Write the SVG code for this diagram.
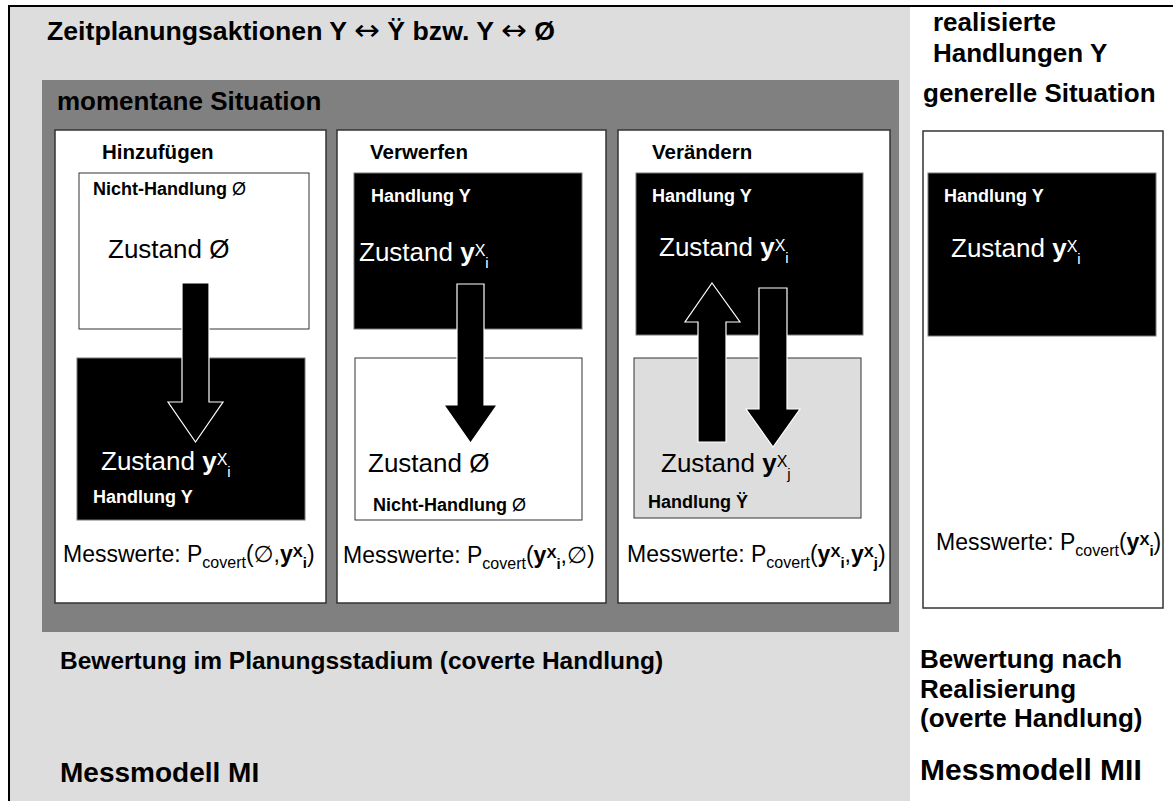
<svg xmlns="http://www.w3.org/2000/svg" width="1173" height="801" viewBox="0 0 1173 801">
  <defs>
    <style>
      text { font-family: "Liberation Sans", Arial, "DejaVu Sans", sans-serif; fill: #000; }
      .h { font-size: 25px; font-weight: bold; }
      .h26 { font-size: 26px; font-weight: bold; }
      .mm { font-size: 30px; font-weight: bold; }
      .ph { font-size: 20.5px; font-weight: bold; }
      .act { font-size: 18px; font-weight: bold; }
      .zs { font-size: 26px; }
      .mw { font-size: 23px; }
      .b { font-weight: bold; }
      .w { fill: #fff; }
      .arr { font-family: "DejaVu Sans", sans-serif; font-weight: normal; font-size: 29px; }
      .panel { fill: #fff; stroke: #333; stroke-width: 1.5; }
      .box-white { fill: #fff; stroke: #333; stroke-width: 1; }
      .box-black { fill: #000; stroke: #777; stroke-width: 1; }
      .box-gray { fill: #dddddd; stroke: #333; stroke-width: 1; }
      .arrow { fill: #000; stroke: #fff; stroke-width: 1.2; stroke-linejoin: miter; }
    </style>
  </defs>

  <!-- background areas -->
  <rect x="0" y="0" width="1173" height="801" fill="#fff"/>
  <rect x="10" y="7" width="900" height="794" fill="#dddddd"/>
  <line x1="9" y1="6" x2="1173" y2="6" stroke="#000" stroke-width="2"/>
  <line x1="9" y1="5" x2="9" y2="801" stroke="#000" stroke-width="2"/>

  <!-- headings -->
  <g id="headings">
    <text class="h" x="47" y="40" textLength="508" lengthAdjust="spacingAndGlyphs">Zeitplanungsaktionen Y <tspan class="arr">↔</tspan> Ÿ bzw. Y <tspan class="arr">↔</tspan> Ø</text>
    <text class="h26" x="933" y="31">realisierte</text>
    <text class="h26" x="933" y="62">Handlungen Y</text>
    <text class="h26" x="923" y="102">generelle Situation</text>
  </g>

  <!-- current situation frame -->
  <g id="momentane-situation">
    <rect x="42" y="80" width="857" height="552" fill="#808080"/>
    <text class="h26" x="57" y="110">momentane Situation</text>
  </g>

  <!-- panel: add -->
  <g id="hinzufuegen">
    <rect class="panel" x="55" y="130" width="271" height="473"/>
    <text class="ph" x="102" y="159">Hinzufügen</text>
    <rect class="box-white" x="79" y="173" width="230" height="156"/>
    <text class="act" x="93" y="195">Nicht-Handlung <tspan font-weight="normal">Ø</tspan></text>
    <text class="zs" x="108" y="258">Zustand Ø</text>
    <rect class="box-black" x="77" y="358" width="228" height="162"/>
  </g>

  <!-- panel: discard -->
  <g id="verwerfen">
    <rect class="panel" x="337" y="130" width="269" height="473"/>
    <text class="ph" x="370" y="159">Verwerfen</text>
    <rect class="box-black" x="354" y="173" width="228" height="156"/>
    <text class="act w" x="371" y="202">Handlung Y</text>
    <text class="zs w" x="359" y="261">Zustand <tspan class="b">y</tspan><tspan font-size="16" dy="-5">X</tspan><tspan font-size="15" dy="12">i</tspan></text>
    <rect class="box-white" x="355" y="358" width="227" height="162"/>
  </g>

  <!-- panel: change -->
  <g id="veraendern">
    <rect class="panel" x="618" y="130" width="272" height="473"/>
    <text class="ph" x="652" y="159">Verändern</text>
    <rect class="box-black" x="636" y="173" width="227" height="162"/>
    <text class="act w" x="652" y="202">Handlung Y</text>
    <text class="zs w" x="659" y="256">Zustand <tspan class="b">y</tspan><tspan font-size="16" dy="-5">X</tspan><tspan font-size="15" dy="12">i</tspan></text>
    <rect class="box-gray" x="634" y="358" width="227" height="160"/>
  </g>

  <!-- panel: realised action -->
  <g id="realisiert">
    <rect class="panel" x="923" y="131" width="240" height="477"/>
    <rect class="box-black" x="928" y="173" width="228" height="163"/>
    <text class="act w" x="944" y="202">Handlung Y</text>
    <text class="zs w" x="951" y="257">Zustand <tspan class="b">y</tspan><tspan font-size="16" dy="-5">X</tspan><tspan font-size="15" dy="12">i</tspan></text>
    <text class="mw" x="936" y="550">Messwerte: P<tspan font-size="16" dy="6">covert</tspan><tspan dy="-6">(</tspan><tspan class="b">y</tspan><tspan class="b" font-size="15" dy="-5">X</tspan><tspan class="b" font-size="15" dy="11">i</tspan><tspan dy="-6">)</tspan></text>
  </g>

  <!-- transition arrows -->
  <g id="connectors">
    <path class="arrow" d="M182,283 H209 V402 H223 L195.5,442 L168,402 H182 Z"/>
    <path class="arrow" d="M457,284 H484 V405 H497 L470.5,443 L444,405 H457 Z"/>
    <path class="arrow" d="M698,442 V322 H685 L712,283 L740,322 H726 V442 Z"/>
    <path class="arrow" d="M759,288 H787 V409 H800 L773,447 L746,409 H759 Z"/>
  </g>

  <!-- texts drawn over the arrows -->
  <g id="hinzufuegen-ziel">
    <text class="zs w" x="101" y="470">Zustand <tspan class="b">y</tspan><tspan font-size="16" dy="-5">X</tspan><tspan font-size="15" dy="12">i</tspan></text>
    <text class="act w" x="93" y="503">Handlung Y</text>
    <text class="mw" x="63" y="562">Messwerte: P<tspan font-size="16" dy="6">covert</tspan><tspan dy="-6">(∅,</tspan><tspan class="b">y</tspan><tspan class="b" font-size="15" dy="-5">X</tspan><tspan class="b" font-size="15" dy="11">i</tspan><tspan dy="-6">)</tspan></text>
  </g>
  <g id="verwerfen-ziel">
    <text class="zs" x="368" y="472">Zustand Ø</text>
    <text class="act" x="373" y="511">Nicht-Handlung <tspan font-weight="normal">Ø</tspan></text>
    <text class="mw" x="343" y="563">Messwerte: P<tspan font-size="16" dy="6">covert</tspan><tspan dy="-6">(</tspan><tspan class="b">y</tspan><tspan class="b" font-size="15" dy="-5">X</tspan><tspan class="b" font-size="15" dy="11">i</tspan><tspan dy="-6">,∅)</tspan></text>
  </g>
  <g id="veraendern-ziel">
    <text class="zs" x="661" y="472">Zustand <tspan class="b">y</tspan><tspan font-size="16" dy="-5">X</tspan><tspan font-size="15" dy="12">j</tspan></text>
    <text class="act" x="648" y="508">Handlung Ÿ</text>
    <text class="mw" x="627" y="562">Messwerte: P<tspan font-size="16" dy="6">covert</tspan><tspan dy="-6">(</tspan><tspan class="b">y</tspan><tspan class="b" font-size="15" dy="-5">X</tspan><tspan class="b" font-size="15" dy="11">i</tspan><tspan dy="-6">,</tspan><tspan class="b">y</tspan><tspan class="b" font-size="15" dy="-5">X</tspan><tspan class="b" font-size="15" dy="11">j</tspan><tspan dy="-6">)</tspan></text>
  </g>

  <!-- evaluation labels -->
  <g id="bewertung">
    <text class="h" x="60" y="669" style="font-size:24.5px">Bewertung im Planungsstadium (coverte Handlung)</text>
    <text class="mm" x="60" y="782" style="font-size:28px">Messmodell MI</text>
    <text class="h26" x="920" y="668">Bewertung nach</text>
    <text class="h26" x="920" y="698">Realisierung</text>
    <text class="h26" x="920" y="727">(overte Handlung)</text>
    <text class="mm" x="920" y="780">Messmodell MII</text>
  </g>
</svg>
